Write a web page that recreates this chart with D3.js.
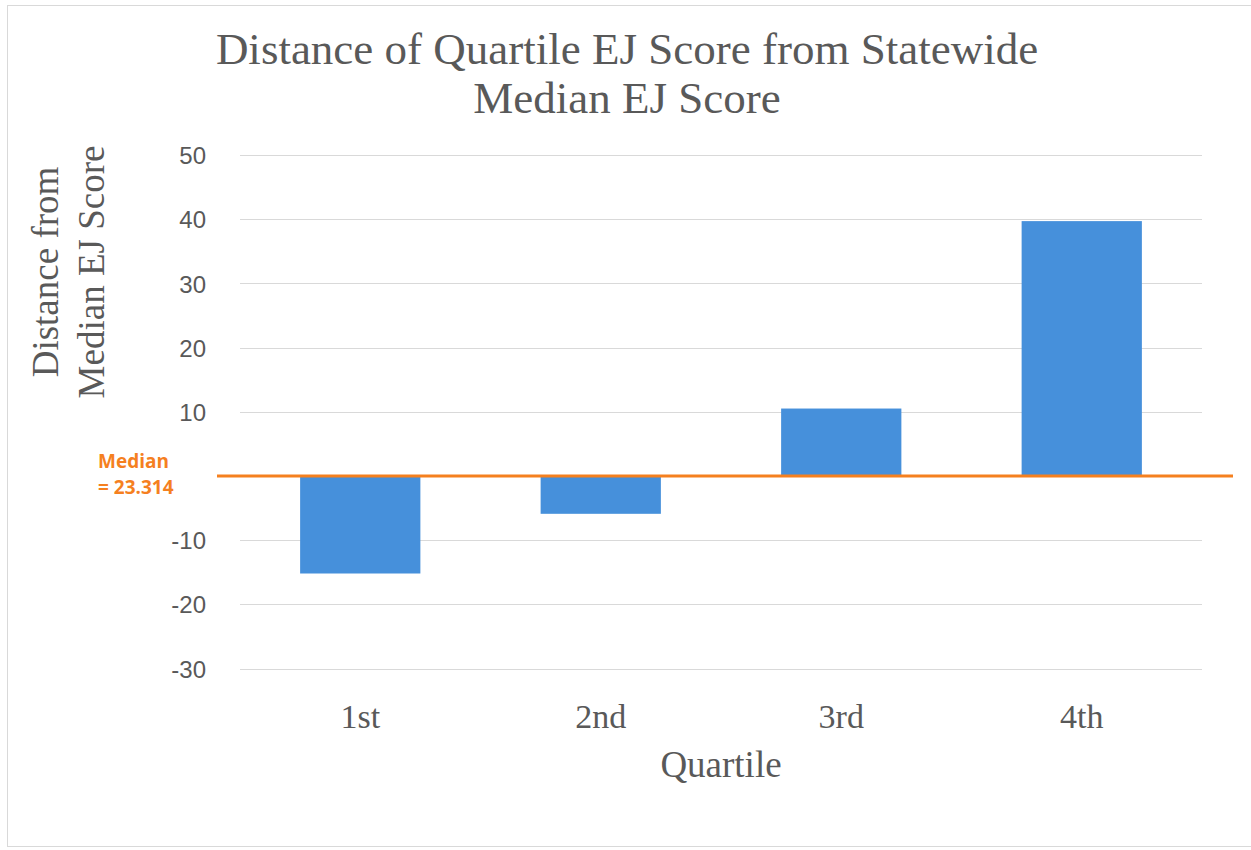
<!DOCTYPE html>
<html>
<head>
<meta charset="utf-8">
<script src="https://cdn.jsdelivr.net/npm/d3@7"></script>
<style>
  body { margin: 0; background: #fff; }
  svg { display: block; }
</style>
</head>
<body>
<svg id="chart"></svg>
<script>
// chart data
var quartiles = ["1st", "2nd", "3rd", "4th"];
var distances = [-15.2, -5.9, 10.5, 39.7];
var yTicks = [50, 40, 30, 20, 10, -10, -20, -30];
var medianLabel = ["Median", "= 23.314"];

var width = 1251,
    height = 850;

var margin = {left: 240, right: 49, top: 155, bottom: 181};
var serif = "'Liberation Serif', 'Times New Roman', serif";

var svg = d3.select("#chart")
    .attr("width", width)
    .attr("height", height);

// outer frame
svg.append("rect")
    .attr("x", 7.5).attr("y", 5.5)
    .attr("width", width + 10).attr("height", 841)
    .attr("fill", "#fff")
    .attr("stroke", "#d9d9d9");

var x = d3.scaleBand()
    .domain(quartiles)
    .range([margin.left, width - margin.right])
    .paddingInner(0.5)
    .paddingOuter(0.25);

var y = d3.scaleLinear()
    .domain([-30, 50])
    .range([height - margin.bottom - 0.5, margin.top]);

// gridlines
svg.append("g")
    .selectAll("line")
    .data(yTicks)
    .enter()
    .append("line")
    .attr("x1", margin.left)
    .attr("x2", width - margin.right)
    .attr("y1", function(d) { return Math.round(y(d)) + 0.5; })
    .attr("y2", function(d) { return Math.round(y(d)) + 0.5; })
    .attr("stroke", "#d9d9d9")
    .attr("stroke-width", 1);

// tick labels (plain hyphen, like the original)
var yAxis = d3.axisLeft(y)
    .tickValues(yTicks)
    .tickFormat(function(d) { return String(d); })
    .tickSize(0).tickPadding(0);
var ya = svg.append("g")
    .attr("transform", "translate(" + 206 + ",0)")
    .call(yAxis);
ya.select(".domain").remove();
ya.selectAll("text")
    .attr("font-family", "'Liberation Sans', Arial, sans-serif")
    .attr("font-size", 24)
    .attr("fill", "#595959")
    .attr("dy", "0.36em");

// bars
svg.append("g")
    .selectAll("rect")
    .data(distances)
    .enter()
    .append("rect")
    .attr("x", function(d, i) { return x(quartiles[i]); })
    .attr("width", x.bandwidth())
    .attr("y", function(d) { return y(Math.max(0, d)); })
    .attr("height", function(d) { return Math.abs(y(d) - y(0)); })
    .attr("fill", "#4690db");

// median line
svg.append("line")
    .attr("x1", 217)
    .attr("x2", 1233)
    .attr("y1", y(0))
    .attr("y2", y(0))
    .attr("stroke", "#f5801f")
    .attr("stroke-width", 3);

svg.append("g")
    .selectAll("text")
    .data(medianLabel)
    .enter()
    .append("text")
    .attr("x", 98)
    .attr("y", function(d, i) { return 468 + i * 26; })
    .attr("font-family", "'Open Sans', 'Liberation Sans', sans-serif")
    .attr("font-weight", "bold")
    .attr("font-size", 19)
    .attr("fill", "#f5801f")
    .text(function(d) { return d; });

// x labels
var xAxis = d3.axisBottom(x).tickSize(0).tickPadding(0);
var xa = svg.append("g")
    .attr("transform", "translate(0," + 728 + ")")
    .call(xAxis);
xa.select(".domain").remove();
xa.selectAll("text")
    .attr("font-family", serif)
    .attr("font-size", 34)
    .attr("fill", "#595959")
    .attr("dy", 0);

svg.append("text")
    .attr("x", (margin.left + width - margin.right) / 2)
    .attr("y", 777)
    .attr("text-anchor", "middle")
    .attr("font-family", serif)
    .attr("font-size", 37)
    .attr("fill", "#595959")
    .text("Quartile");

// y title
var yTitle = svg.append("text")
    .attr("transform", "translate(0,272) rotate(-90)")
    .attr("text-anchor", "middle")
    .attr("font-family", serif)
    .attr("font-size", 37)
    .attr("fill", "#595959");
yTitle.append("tspan").attr("x", 0).attr("y", 58).text("Distance from");
yTitle.append("tspan").attr("x", 0).attr("y", 104).text("Median EJ Score");

// chart title
var title = svg.append("text")
    .attr("text-anchor", "middle")
    .attr("font-family", serif)
    .attr("font-size", 45)
    .attr("fill", "#595959");
title.append("tspan").attr("x", 627).attr("y", 64).text("Distance of Quartile EJ Score from Statewide");
title.append("tspan").attr("x", 627).attr("y", 113).text("Median EJ Score");
</script>
</body>
</html>
